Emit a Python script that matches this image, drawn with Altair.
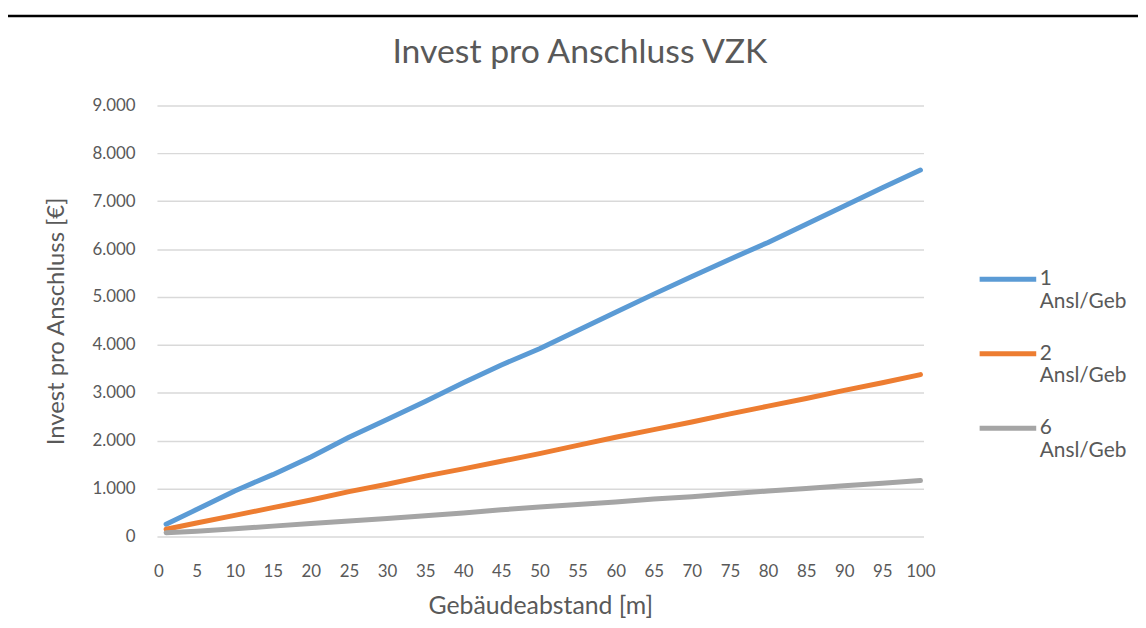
import altair as alt
import pandas as pd

# Data
distance = [1, 5, 10, 15, 20, 25, 30, 35, 40, 45, 50, 55, 60, 65, 70, 75, 80, 85, 90, 95, 100]
series_names = ["1 Ansl/Geb", "2 Ansl/Geb", "6 Ansl/Geb"]
invest_1 = [255, 560, 950, 1290, 1660, 2070, 2440, 2820, 3210, 3580, 3920, 4300, 4680, 5060, 5430, 5790, 6140, 6520, 6900, 7280, 7650]
invest_2 = [150, 280, 440, 600, 760, 935, 1090, 1260, 1410, 1570, 1730, 1900, 2070, 2230, 2390, 2560, 2720, 2880, 3050, 3210, 3380]
invest_6 = [77, 110, 160, 215, 270, 320, 375, 430, 490, 555, 615, 665, 720, 780, 830, 890, 950, 1000, 1060, 1110, 1168]
series_colors = ["#5B9BD5", "#ED7D31", "#A5A5A5"]
x_ticks = list(range(0, 101, 5))
y_ticks = list(range(0, 9001, 1000))

rows = []
for name, vals in zip(series_names, [invest_1, invest_2, invest_6]):
    for d, v in zip(distance, vals):
        rows.append({"Gebäudeabstand": d, "Invest": v, "Serie": name})
df = pd.DataFrame(rows)

TXT = "#595959"
FONT = "Lato"

lines = alt.Chart(df).mark_line(strokeWidth=5, strokeCap="round", strokeJoin="round").encode(
    x=alt.X("Gebäudeabstand:Q",
            scale=alt.Scale(domain=[-0.2, 100.4], nice=False, zero=False),
            axis=alt.Axis(title="Gebäudeabstand [m]", values=x_ticks, grid=False, ticks=False,
                          domain=False, labelFontSize=17, labelColor=TXT, labelFont=FONT,
                          labelPadding=27, titleFontSize=25, titleColor=TXT, titleFont=FONT,
                          titleFontWeight="normal", titlePadding=15, labelFlush=False)),
    y=alt.Y("Invest:Q",
            scale=alt.Scale(domain=[0, 9000], nice=False),
            axis=alt.Axis(title="Invest pro Anschluss [€]", values=y_ticks, grid=True,
                          gridColor="#D9D9D9", gridWidth=1.5, ticks=False, domain=False,
                          labelExpr="replace(format(datum.value, ',.0f'), ',', '.')",
                          labelFontSize=17, labelColor=TXT, labelFont=FONT, labelPadding=22,
                          titleFontSize=24, titleColor=TXT, titleFont=FONT,
                          titleFontWeight="normal", titlePadding=24)),
    color=alt.Color("Serie:N",
                    scale=alt.Scale(domain=series_names, range=series_colors),
                    legend=alt.Legend(title=None, orient="none", legendX=826, legendY=144,
                                      symbolType="stroke", symbolSize=3249, symbolStrokeWidth=5,
                                      labelFontSize=21, labelColor=TXT, labelFont=FONT,
                                      labelOffset=1, labelBaseline="middle", rowPadding=11,
                                      padding=0,
                                      labelExpr="[split(datum.label, ' ')[0], split(datum.label, ' ')[1]]")),
)

top_rule = alt.Chart(alt.Data(values=[{"a": 1}])).mark_rule(color="black", strokeWidth=2.5).encode(
    x=alt.value(-150), x2=alt.value(992), y=alt.value(-90)
)

chart = alt.layer(lines, top_rule).properties(
    width=772,
    height=434,
    autosize=alt.AutoSizeParams(type="none"),
    padding={"left": 150, "top": 96, "right": 216, "bottom": 80},
    title=alt.TitleParams("Invest pro Anschluss VZK", fontSize=34, color=TXT, font=FONT,
                          fontWeight="normal", offset=-55, dx=40, anchor="middle"),
).configure_view(stroke=None)

chart.save("out.html", embed_options={"renderer": "svg", "actions": False})
